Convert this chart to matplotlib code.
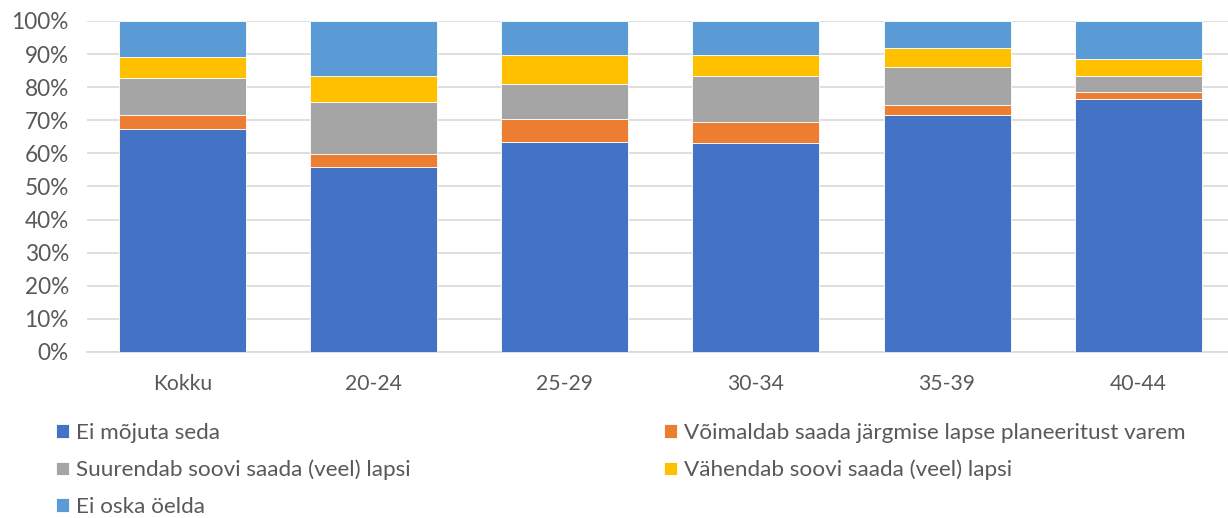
import matplotlib.pyplot as plt
import numpy as np

categories = ["Kokku", "20-24", "25-29", "30-34", "35-39", "40-44"]
series_names = [
    "Ei mõjuta seda",
    "Võimaldab saada järgmise lapse planeeritust varem",
    "Suurendab soovi saada (veel) lapsi",
    "Vähendab soovi saada (veel) lapsi",
    "Ei oska öelda",
]
ei_mojuta = [67.4, 56.0, 63.3, 63.1, 71.7, 76.3]
voimaldab = [4.3, 3.7, 7.0, 6.5, 3.0, 2.1]
suurendab = [11.1, 15.9, 10.8, 13.7, 11.5, 5.1]
vahendab = [6.3, 7.8, 8.5, 6.4, 5.7, 5.0]
ei_oska = [10.9, 16.6, 10.4, 10.3, 8.1, 11.5]
colors = ["#4472C4", "#ED7D31", "#A5A5A5", "#FFC000", "#5B9BD5"]

plt.rcParams['font.family'] = ['Lato', 'DejaVu Sans']

fig = plt.figure(figsize=(12.28, 5.18), dpi=100)
ax = fig.add_axes([87 / 1228, 1 - 352 / 518, 1 - 87 / 1228, (352 - 21) / 518])

x = np.arange(len(categories))
values = [ei_mojuta, voimaldab, suurendab, vahendab, ei_oska]
bottom = np.zeros(len(categories))
handles = []
for name, vals, c in zip(series_names, values, colors):
    vals = np.array(vals)
    h = ax.bar(x, vals, 0.665, bottom=bottom, color=c, label=name,
               edgecolor="white", linewidth=0.6, zorder=3)
    bottom += vals
    handles.append(h)

ax.set_xlim(-0.5, 5.47)
ax.set_ylim(0, 100)
ax.set_yticks(np.arange(0, 101, 10))
ax.set_yticklabels([f"{v}%" for v in range(0, 101, 10)])
ax.set_xticks(x)
ax.set_xticklabels(categories)
ax.grid(axis="y", color="#d9d9d9", linewidth=1.2, zorder=0)
for s in ["top", "right", "left"]:
    ax.spines[s].set_visible(False)
ax.spines["bottom"].set_color("#d9d9d9")
ax.spines["bottom"].set_linewidth(1.2)
ax.tick_params(axis="x", length=0, labelsize=15.2, colors="#595959", pad=16)
ax.tick_params(axis="y", length=0, labelsize=16.3, colors="#595959", pad=13)

leg_kw = dict(frameon=False, fontsize=16.2, handlelength=0.58, handleheight=0.55,
              handletextpad=0.33, labelspacing=0.74, labelcolor="#595959",
              borderaxespad=0, borderpad=0)
fig.legend([handles[0], handles[2], handles[4]],
           [series_names[0], series_names[2], series_names[4]],
           loc="upper left", bbox_to_anchor=(56 / 1228, 1 - 423 / 518), **leg_kw)
fig.legend([handles[1], handles[3]], [series_names[1], series_names[3]],
           loc="upper left", bbox_to_anchor=(664 / 1228, 1 - 423 / 518), **leg_kw)

fig.savefig("out.png", dpi=100)
